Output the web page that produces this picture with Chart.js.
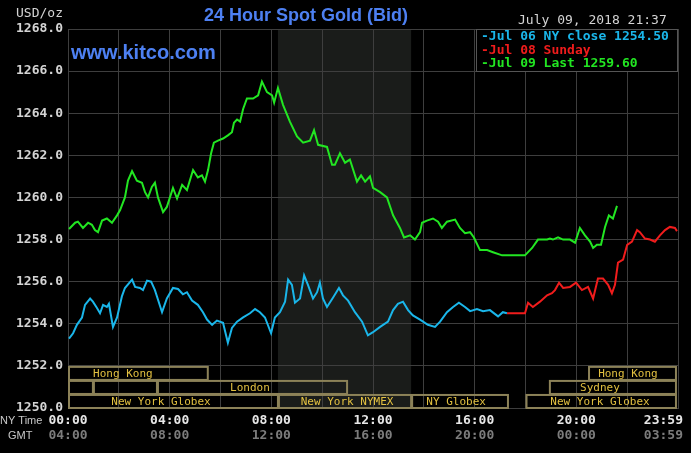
<!DOCTYPE html>
<html>
<head>
<meta charset="utf-8">
<script src="https://cdn.jsdelivr.net/npm/chart.js@4.4.1/dist/chart.umd.min.js"></script>
<style>
  body { margin: 0; background: #000; }
  #wrap { width: 691px; height: 453px; }
</style>
</head>
<body>
<div id="wrap"><canvas id="gold" width="691" height="453"></canvas></div>
<script>
// Jul 06 NY close (cyan), hours NY time
const jul06Hours = [0.04,0.20,0.35,0.55,0.67,0.87,0.98,1.14,1.26,1.38,1.53,1.61,1.77,1.93,2.12,2.24,2.52,2.64,2.83,2.95,3.11,3.27,3.42,3.70,3.89,4.13,4.33,4.52,4.68,4.88,5.11,5.31,5.47,5.67,5.86,6.10,6.29,6.45,6.65,6.89,7.16,7.36,7.55,7.75,7.99,8.14,8.34,8.54,8.66,8.81,8.93,9.13,9.29,9.44,9.64,9.80,9.91,10.03,10.19,10.43,10.66,10.82,11.02,11.29,11.57,11.80,12.00,12.28,12.59,12.79,12.98,13.18,13.38,13.57,13.85,14.16,14.44,14.64,14.91,15.15,15.38,15.62,15.82,16.09,16.33,16.60,16.92,17.11,17.27]
const jul06Values = [1253.3,1253.55,1253.95,1254.3,1254.9,1255.2,1255.05,1254.75,1254.5,1254.9,1254.8,1254.95,1253.85,1254.3,1255.3,1255.7,1256.1,1255.75,1255.7,1255.6,1256.05,1256.0,1255.6,1254.55,1255.2,1255.7,1255.65,1255.4,1255.5,1255.1,1254.9,1254.55,1254.2,1253.95,1254.15,1254.05,1253.1,1253.8,1254.1,1254.3,1254.5,1254.7,1254.55,1254.3,1253.55,1254.3,1254.55,1255.05,1256.1,1255.85,1255.0,1255.2,1256.3,1255.85,1255.2,1255.5,1255.95,1255.2,1254.8,1255.25,1255.7,1255.35,1255.1,1254.55,1254.1,1253.45,1253.6,1253.85,1254.1,1254.65,1254.95,1255.05,1254.65,1254.4,1254.2,1253.95,1253.85,1254.1,1254.55,1254.8,1255.0,1254.8,1254.6,1254.7,1254.6,1254.65,1254.35,1254.55,1254.5]

// Jul 08 Sunday (red)
const jul08Hours = [17.27,17.98,18.10,18.29,18.57,18.85,19.04,19.16,19.32,19.48,19.75,19.99,20.22,20.46,20.66,20.85,21.05,21.25,21.40,21.52,21.64,21.84,22.00,22.19,22.39,22.50,22.70,22.90,23.09,23.29,23.49,23.68,23.88,23.96]
const jul08Values = [1254.5,1254.5,1255.0,1254.8,1255.05,1255.35,1255.45,1255.6,1255.95,1255.7,1255.75,1255.95,1255.6,1255.75,1255.2,1256.15,1256.15,1255.85,1255.45,1255.85,1256.9,1257.05,1257.75,1257.9,1258.45,1258.35,1258.05,1258.0,1257.9,1258.2,1258.45,1258.6,1258.55,1258.4]

// Jul 09 Last (green)
const jul09Hours = [0.04,0.28,0.39,0.59,0.79,0.94,1.06,1.18,1.34,1.53,1.73,1.93,2.05,2.24,2.36,2.52,2.71,2.91,3.03,3.15,3.30,3.42,3.54,3.74,3.89,4.13,4.29,4.49,4.68,4.92,5.11,5.27,5.39,5.51,5.63,5.74,5.90,6.10,6.29,6.45,6.53,6.65,6.77,6.89,7.04,7.28,7.48,7.63,7.83,8.03,8.11,8.26,8.46,8.73,9.01,9.25,9.52,9.68,9.84,10.19,10.39,10.50,10.70,10.90,11.09,11.37,11.53,11.69,11.88,12.00,12.28,12.55,12.79,13.06,13.22,13.46,13.65,13.85,13.93,14.12,14.36,14.56,14.71,14.91,15.23,15.42,15.62,15.82,15.97,16.21,16.49,16.72,17.08,17.98,18.26,18.49,18.85,18.96,19.08,19.28,19.48,19.75,19.95,20.14,20.34,20.54,20.66,20.81,20.97,21.13,21.28,21.44,21.60]
const jul09Values = [1258.5,1258.8,1258.85,1258.55,1258.8,1258.7,1258.45,1258.35,1258.9,1259.0,1258.8,1259.15,1259.4,1260.0,1260.8,1261.25,1260.8,1260.7,1260.25,1260.0,1260.5,1260.7,1260.0,1259.3,1259.55,1260.45,1259.95,1260.6,1260.35,1261.3,1260.95,1261.05,1260.75,1261.3,1262.1,1262.6,1262.7,1262.8,1262.95,1263.1,1263.55,1263.7,1263.6,1264.2,1264.7,1264.7,1264.85,1265.5,1265.0,1264.85,1264.5,1265.2,1264.4,1263.6,1262.9,1262.6,1262.7,1263.2,1262.5,1262.4,1261.55,1261.55,1262.1,1261.65,1261.8,1260.75,1261.05,1260.75,1261.0,1260.45,1260.25,1260.0,1259.15,1258.55,1258.1,1258.2,1258.0,1258.35,1258.8,1258.9,1259.0,1258.85,1258.55,1258.85,1258.95,1258.55,1258.3,1258.35,1258.1,1257.5,1257.5,1257.4,1257.25,1257.25,1257.6,1258.0,1258.0,1258.05,1258.0,1258.1,1258.0,1258.0,1257.85,1258.55,1258.2,1257.9,1257.6,1257.75,1257.75,1258.6,1259.15,1259.0,1259.6]

const legendLabels = ["-Jul 06 NY close 1254.50", "-Jul 08 Sunday", "-Jul 09 Last 1259.60"]
const seriesColors = ["#1ab6ea", "#f01c1c", "#22e622"]

// x axis labels
const tickHours = [0, 4, 8, 12, 16, 20, 23.983]
const nyTimeLabels = ["00:00", "04:00", "08:00", "12:00", "16:00", "20:00", "23:59"]
const gmtLabels = ["04:00", "08:00", "12:00", "16:00", "20:00", "00:00", "03:59"]

// trading sessions (row 0 top .. row 2 bottom)
const sessionNames = ["Hong Kong", "Hong Kong", "", "", "London", "Sydney", "New York Globex", "New York NYMEX", "NY Globex", "New York Globex"]
const sessionRow = [0, 0, 1, 1, 1, 1, 2, 2, 2, 2]
const sessionStart = [0, 20.46, 0, 0.98, 3.5, 18.92, 0, 8.26, 13.5, 18.0]
const sessionEnd = [5.5, 23.92, 0.98, 3.5, 10.98, 23.92, 8.26, 13.5, 17.31, 23.92]
const sessionLabelAt = [2.16, 22.03, 0, 0, 7.16, 20.93, 3.66, 10.98, 15.27, 20.93]

const nymexStart = 8.26
const nymexEnd = 13.5

const MONO = "DejaVu Sans Mono"

function toPoints(hours, values) {
  return hours.map((h, i) => ({ x: h, y: values[i] }))
}

const kitcoPlugin = {
  id: "kitco",
  beforeDraw(chart) {
    const ctx = chart.ctx
    const { x, y } = chart.scales
    ctx.save()
    ctx.fillStyle = "#000"
    ctx.fillRect(0, 0, chart.width, chart.height)
    // NYMEX session shading
    ctx.fillStyle = "#1a1c1a"
    const x1 = x.getPixelForValue(nymexStart)
    const x2 = x.getPixelForValue(nymexEnd)
    ctx.fillRect(x1, y.getPixelForValue(1268), x2 - x1, y.getPixelForValue(1250) - y.getPixelForValue(1268))
    ctx.restore()
  },
  beforeDatasetsDraw(chart) {
    const ctx = chart.ctx
    const { x, y } = chart.scales
    const area = chart.chartArea
    ctx.save()

    // session boxes
    const top = y.getPixelForValue(1252)
    const bottom = y.getPixelForValue(1250)
    const rowH = (bottom - top) / 3
    ctx.strokeStyle = "#8c8258"
    ctx.lineWidth = 2
    ctx.font = "11px " + MONO
    ctx.textAlign = "center"
    ctx.textBaseline = "middle"
    sessionNames.forEach((name, i) => {
      const sx = x.getPixelForValue(sessionStart[i])
      const ex = x.getPixelForValue(sessionEnd[i])
      const ty = top + rowH * sessionRow[i]
      ctx.strokeRect(sx + 1, ty + 1, ex - sx - 1, rowH - 1)
      if (name) {
        ctx.fillStyle = "#e2c040"
        ctx.fillText(name, x.getPixelForValue(sessionLabelAt[i]), ty + rowH / 2 + 1)
      }
    })

    // legend box
    const lx = 476, ly = area.top
    ctx.fillStyle = "#000"
    ctx.fillRect(lx, ly, area.right - lx - 1, 42)
    ctx.strokeStyle = "#555"
    ctx.lineWidth = 1
    ctx.strokeRect(lx + 0.5, ly + 0.5, area.right - lx - 1, 42)
    ctx.font = "bold 13px " + MONO
    ctx.textAlign = "left"
    legendLabels.forEach((t, i) => {
      ctx.fillStyle = seriesColors[i]
      ctx.fillText(t, 481, ly + 7.5 + i * 13.7)
    })
    ctx.restore()
  },
  afterDraw(chart) {
    const ctx = chart.ctx
    const x = chart.scales.x
    ctx.save()
    ctx.textBaseline = "middle"

    ctx.font = "bold 18px 'Liberation Sans', Arial"
    ctx.fillStyle = "#4d80f2"
    ctx.textAlign = "center"
    ctx.fillText("24 Hour Spot Gold (Bid)", 306, 16)

    ctx.textAlign = "left"
    ctx.font = "bold 20px 'Liberation Sans', Arial"
    ctx.fillText("www.kitco.com", 71, 53)

    ctx.font = "13px " + MONO
    ctx.fillStyle = "#d4d4d4"
    ctx.fillText("USD/oz", 16, 14)
    ctx.fillText("July 09, 2018 21:37", 518, 21)

    ctx.font = "11px 'Liberation Sans', Arial"
    ctx.fillStyle = "#c8c8c8"
    ctx.fillText("NY Time", 0, 421)
    ctx.fillText("GMT", 8, 436)

    ctx.font = "bold 13px " + MONO
    tickHours.forEach((h, i) => {
      const last = i === tickHours.length - 1
      ctx.textAlign = last ? "right" : "center"
      const px = last ? chart.chartArea.right + 5 : x.getPixelForValue(h)
      ctx.fillStyle = "#e6e6e6"
      ctx.fillText(nyTimeLabels[i], px, 421)
      ctx.fillStyle = "#7c7c7c"
      ctx.fillText(gmtLabels[i], px, 436)
    })
    ctx.restore()
  }
}

new Chart(document.getElementById("gold"), {
  type: "line",
  data: {
    datasets: [
      { label: legendLabels[0], data: toPoints(jul06Hours, jul06Values), borderColor: seriesColors[0] },
      { label: legendLabels[1], data: toPoints(jul08Hours, jul08Values), borderColor: seriesColors[1] },
      { label: legendLabels[2], data: toPoints(jul09Hours, jul09Values), borderColor: seriesColors[2] }
    ]
  },
  options: {
    responsive: false,
    animation: false,
    devicePixelRatio: 1,
    layout: { padding: { top: 29, right: 13, left: 0, bottom: 0 } },
    elements: {
      line: { borderWidth: 2, tension: 0 },
      point: { radius: 0 }
    },
    plugins: {
      legend: { display: false },
      tooltip: { enabled: false }
    },
    scales: {
      x: {
        type: "linear",
        min: 0,
        max: 24,
        afterBuildTicks: s => { s.ticks = [0,2,4,6,8,10,12,14,16,18,20,22,24].map(v => ({ value: v })) },
        afterFit: s => { s.height = 45 },
        ticks: { display: false },
        grid: { color: "#3e3e3e", drawTicks: false },
        border: { color: "#3e3e3e" }
      },
      y: {
        min: 1250,
        max: 1268,
        afterFit: s => { s.width = 68 },
        ticks: {
          stepSize: 2,
          padding: 5,
          color: "#d4d4d4",
          font: { family: MONO, size: 13, weight: "bold" },
          callback: v => v.toFixed(1)
        },
        grid: { color: "#3e3e3e", drawTicks: false },
        border: { color: "#3e3e3e" }
      }
    }
  },
  plugins: [kitcoPlugin]
})
</script>
</body>
</html>
